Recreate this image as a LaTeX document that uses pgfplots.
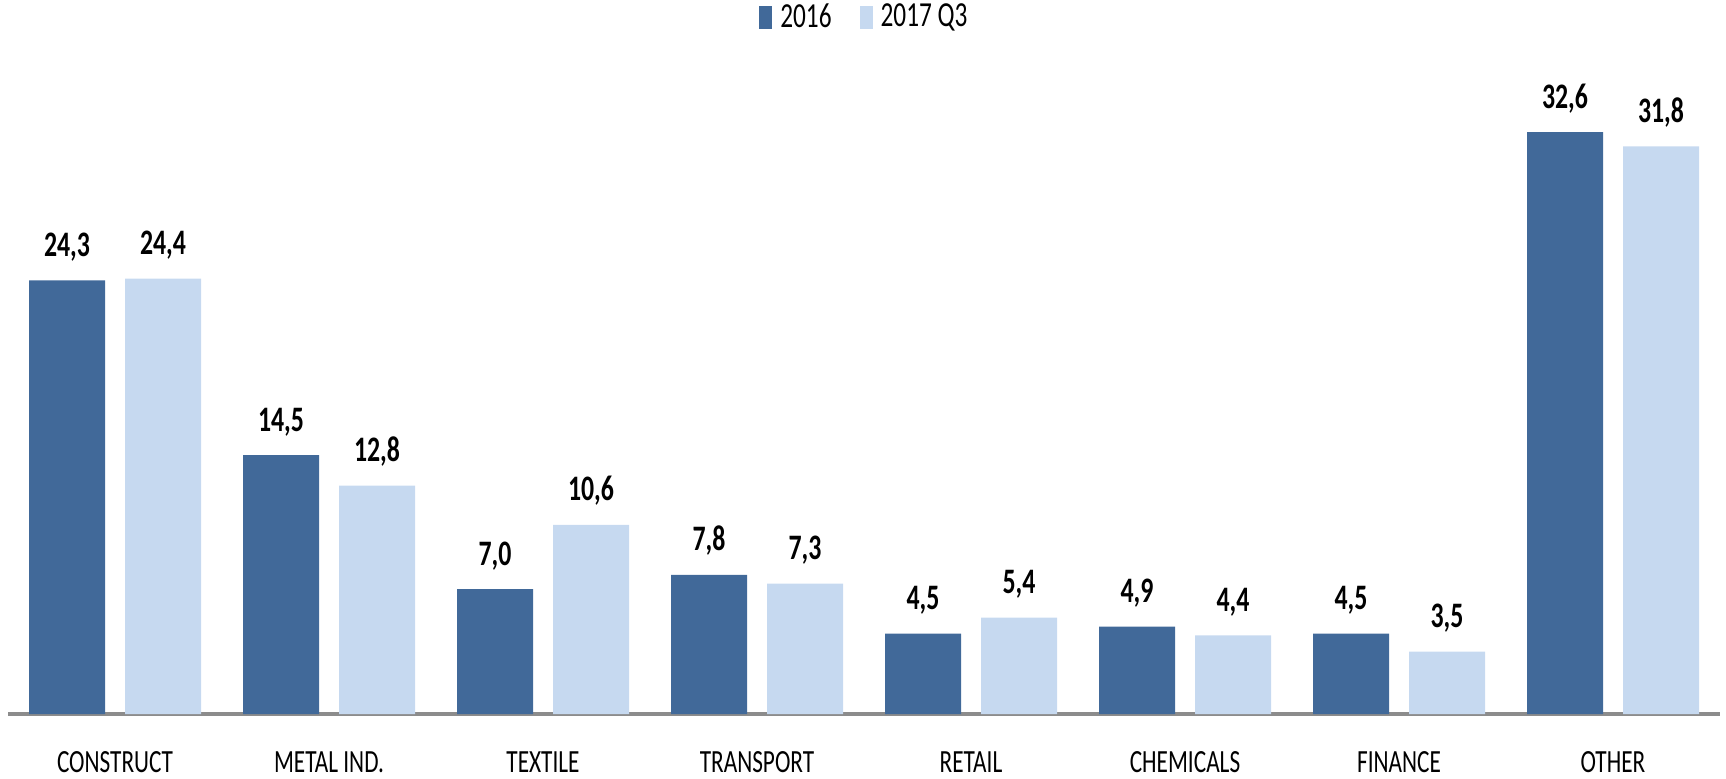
\documentclass[border=0pt]{standalone}
\usepackage{fontspec}
\setmainfont{Carlito}[FakeStretch=0.72]
\usepackage{pgfplots}
\pgfplotsset{compat=1.18}

\definecolor{darkbar}{HTML}{416999}
\definecolor{lightbar}{HTML}{C6D9F0}
\definecolor{axisgray}{HTML}{8C8C8C}

\begin{document}
\begin{tikzpicture}
\begin{axis}[
  name=ax,
  scale only axis,
  width=171.2mm, height=63mm,
  xmin=-0.5, xmax=7.5,
  ymin=0, ymax=35.3,
  ybar, bar width=7.6mm,
  axis y line=none,
  axis x line*=bottom,
  axis line style={axisgray, line width=1pt},
  xtick={0,...,7},
  xticklabels={CONSTRUCT, METAL IND., TEXTILE, TRANSPORT, RETAIL, CHEMICALS, FINANCE, OTHER},
  xtick style={draw=none},
  xticklabel style={font=\fontsize{9.2}{11}\selectfont, anchor=base, yshift=-4.3mm},
  ytick=\empty,
  clip=false,
  nodes near coords,
  every node near coord/.append style={font=\bfseries\fontsize{10.2}{12}\selectfont, anchor=base, yshift=2.4mm, black},
  /pgf/number format/.cd, fixed, fixed zerofill, precision=1, use comma, assume math mode=true,
  /pgfplots/.cd,
  legend columns=2,
  legend style={at={(0.502,1.105)}, anchor=center, draw=none, fill=none,
    font=\fontsize{10}{12}\selectfont,
    /tikz/every even column/.append style={column sep=2mm},
    nodes={inner sep=0.8mm}},
  legend image code/.code={\fill[#1] (0mm,-1.15mm) rectangle (1.3mm,1.15mm);},
]
\addplot[fill=darkbar, draw=none, bar shift=-4.8mm] coordinates {
  (0,24.3) (1,14.5) (2,7.0) (3,7.8) (4,4.5) (5,4.9) (6,4.5) (7,32.6)
};
\addlegendentry{2016}
\addplot[fill=lightbar, draw=none, bar shift=4.8mm] coordinates {
  (0,24.4) (1,12.8) (2,10.6) (3,7.3) (4,5.4) (5,4.4) (6,3.5) (7,31.8)
};
\addlegendentry{2017 Q3}
\end{axis}
\pgfresetboundingbox
\path[use as bounding box] ([xshift=-0.8mm, yshift=-6.4mm]ax.south west) rectangle ++(172.6mm,77.8mm);
\end{tikzpicture}
\end{document}
